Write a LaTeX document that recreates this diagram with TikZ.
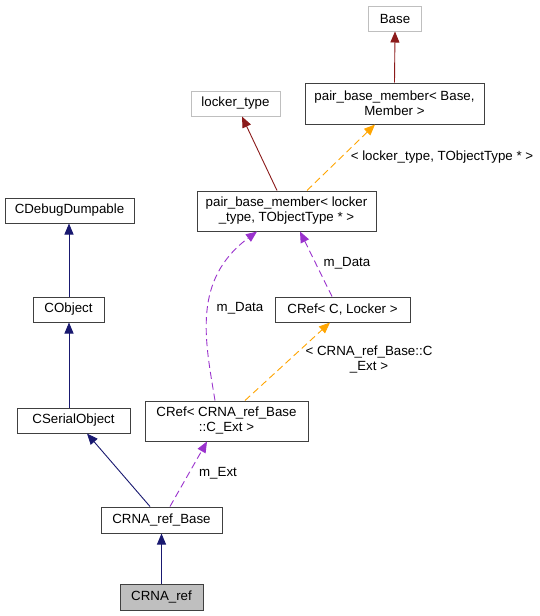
\documentclass[tikz,border=0pt]{standalone}
\usepackage{fontspec}
\setmainfont{Liberation Sans}
\usetikzlibrary{arrows.meta}
\definecolor{navyc}{HTML}{191970}
\definecolor{redc}{HTML}{8B1A1A}
\definecolor{orangec}{HTML}{FFA500}
\definecolor{purplec}{HTML}{9A32CD}
\definecolor{boxc}{HTML}{404040}
\definecolor{grayb}{HTML}{BFBFBF}
\begin{document}
\begin{tikzpicture}[x=1pt,y=-1pt,
  font=\fontsize{13.3pt}{15pt}\selectfont,
  cls/.style={draw=boxc,line width=1pt,fill=white,rectangle,inner sep=0pt,align=center},
  ext/.style={draw=grayb,line width=1pt,fill=white,rectangle,inner sep=0pt,align=center},
  tip/.style={-{Triangle[length=11pt,width=9pt]}},
  inh/.style={tip,draw=navyc,line width=0.9pt},
  rinh/.style={tip,draw=redc,line width=0.9pt},
  tmpl/.style={tip,draw=orangec,line width=0.9pt,dash pattern=on 7pt off 4pt},
  use/.style={tip,draw=purplec,line width=0.9pt,dash pattern=on 7pt off 4pt},
  lbl/.style={inner sep=0pt,align=center}]
\useasboundingbox (0,0) rectangle (540,616);
\fill[white] (0,0) rectangle (540,616);

\node[ext,minimum width=53pt,minimum height=25pt] (base) at (395,18.5) {Base};
\node[cls,minimum width=179pt,minimum height=41pt] (pbmB) at (394.5,103.5) {pair\_base\_member< Base,\\Member >};
\node[ext,minimum width=89pt,minimum height=25pt] (locker) at (235.5,103.5) {locker\_type};
\node[cls,minimum width=179pt,minimum height=40pt] (pbmL) at (286.5,211) {pair\_base\_member< locker\\\_type, TObjectType * >};
\node[cls,minimum width=135pt,minimum height=25pt] (crefCL) at (342.5,309.5) {CRef< C, Locker >};
\node[cls,minimum width=163pt,minimum height=40pt] (crefX) at (226.5,421) {CRef< CRNA\_ref\_Base\\::C\_Ext >};
\node[cls,minimum width=121pt,minimum height=26pt] (rbase) at (161.5,520) {CRNA\_ref\_Base};
\node[cls,fill=grayb,minimum width=83pt,minimum height=26pt] (rref) at (161.5,597) {CRNA\_ref};
\node[cls,minimum width=129pt,minimum height=25pt] (dbg) at (69.5,210.5) {CDebugDumpable};
\node[cls,minimum width=71pt,minimum height=25pt] (cobj) at (68.5,309.5) {CObject};
\node[cls,minimum width=113pt,minimum height=25pt] (cser) at (73.5,420.5) {CSerialObject};

\draw[rinh] (pbmB.north) -- (base.south);
\draw[rinh] ([xshift=-9.5pt]pbmL.north) -- ([xshift=6.5pt]locker.south);
\draw[tmpl] ([xshift=20.5pt]pbmL.north) -- ([xshift=-19.5pt]pbmB.south);
\draw[use] ([xshift=-10.5pt]crefCL.north) -- ([xshift=13.5pt]pbmL.south);
\draw[use] ([xshift=-11.5pt]crefX.north) .. controls (205,340) and (192,280) .. ([xshift=-29.5pt]pbmL.south);
\draw[tmpl] ([xshift=18.5pt]crefX.north) -- ([xshift=-12.5pt]crefCL.south);
\draw[use] ([xshift=8.5pt]rbase.north) -- ([xshift=-19.5pt]crefX.south);
\draw[inh] ([xshift=-11.5pt]rbase.north) -- ([xshift=13.5pt]cser.south);
\draw[inh] (rref.north) -- (rbase.south);
\draw[inh] ([xshift=-4.5pt]cser.north) -- ([xshift=0.5pt]cobj.north |- cobj.south);
\draw[inh] ([xshift=0.5pt]cobj.north) -- ([xshift=-0.5pt]dbg.south);

\node[lbl] (l1) at (442,157) {< locker\_type, TObjectType * >};
\node[lbl] (l2) at (347,263) {m\_Data};
\node[lbl] (l3) at (240,308) {m\_Data};
\node[lbl] (l4) at (369,360) {< CRNA\_ref\_Base::C\\\_Ext >};
\node[lbl] (l5) at (218,473) {m\_Ext};
\end{tikzpicture}
\end{document}
